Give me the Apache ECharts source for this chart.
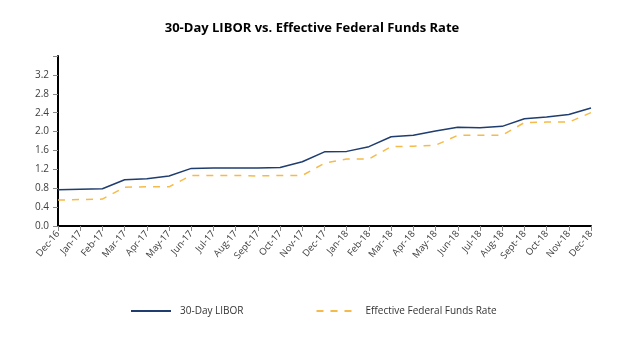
<!DOCTYPE html>
<html><head><meta charset="utf-8">
<script src="https://cdn.jsdelivr.net/npm/echarts@6/dist/echarts.min.js"></script>
<style>html,body{margin:0;padding:0;background:#fff}#c{width:624px;height:346px}</style>
</head><body><div id="c"></div>
<script>
const categories = ['Dec-16','Jan-17','Feb-17','Mar-17','Apr-17','May-17','Jun-17','Jul-17','Aug-17','Sept-17','Oct-17','Nov-17','Dec-17','Jan-18','Feb-18','Mar-18','Apr-18','May-18','Jun-18','Jul-18','Aug-18','Sept-18','Oct-18','Nov-18','Dec-18'];
const libor = [0.77,0.78,0.79,0.98,1.00,1.06,1.22,1.23,1.23,1.23,1.24,1.36,1.57,1.58,1.68,1.89,1.92,2.01,2.09,2.08,2.11,2.27,2.31,2.36,2.50];
const effr = [0.55,0.56,0.57,0.82,0.83,0.83,1.07,1.07,1.07,1.06,1.07,1.07,1.33,1.42,1.42,1.68,1.69,1.71,1.92,1.92,1.92,2.19,2.20,2.20,2.40];
const yTicks = [0,0.4,0.8,1.2,1.6,2.0,2.4,2.8,3.2];

const font = 'Open Sans, Liberation Sans, sans-serif';
const chart = echarts.init(document.getElementById('c'));
chart.setOption({
  animation:false,
  title:{text:'30-Day LIBOR vs. Effective Federal Funds Rate',left:'center',top:17,
    textStyle:{fontFamily:font,fontSize:13,fontWeight:'bold',color:'#000'}},
  grid:{left:58,right:33,top:56,bottom:120},
  legend:{bottom:25,left:125,itemWidth:40,itemHeight:2,itemGap:72,
    textStyle:{fontFamily:font,fontSize:10,color:'#333',padding:[0,0,0,4]},
    data:[{name:'30-Day LIBOR'},{name:'Effective Federal Funds Rate'}]},
  xAxis:{type:'category',data:categories,boundaryGap:false,
    axisLine:{lineStyle:{color:'#000',width:2}},
    axisTick:{show:true,alignWithLabel:true,length:5,lineStyle:{color:'#888'}},
    axisLabel:{rotate:50,fontFamily:font,fontSize:9.5,color:'#404040',margin:6,interval:0}},
  yAxis:{type:'value',min:0,max:3.6,interval:0.4,
    axisLine:{show:true,lineStyle:{color:'#000',width:2}},
    axisTick:{show:true,length:5,lineStyle:{color:'#888'}},
    splitLine:{show:false},
    axisLabel:{fontFamily:font,fontSize:10,color:'#404040',margin:9,
      formatter:function(v){return yTicks.some(t=>Math.abs(t-v)<1e-6)?v.toFixed(1):'';}}},
  series:[
    {name:'30-Day LIBOR',type:'line',data:libor,symbol:'none',
      lineStyle:{color:'#1f3d6e',width:1.5},itemStyle:{color:'#1f3d6e'}},
    {name:'Effective Federal Funds Rate',type:'line',data:effr,symbol:'none',
      lineStyle:{color:'#f5bb4a',width:1.5,type:[7,7]},itemStyle:{color:'#f5bb4a'}}
  ]
});
</script></body></html>
